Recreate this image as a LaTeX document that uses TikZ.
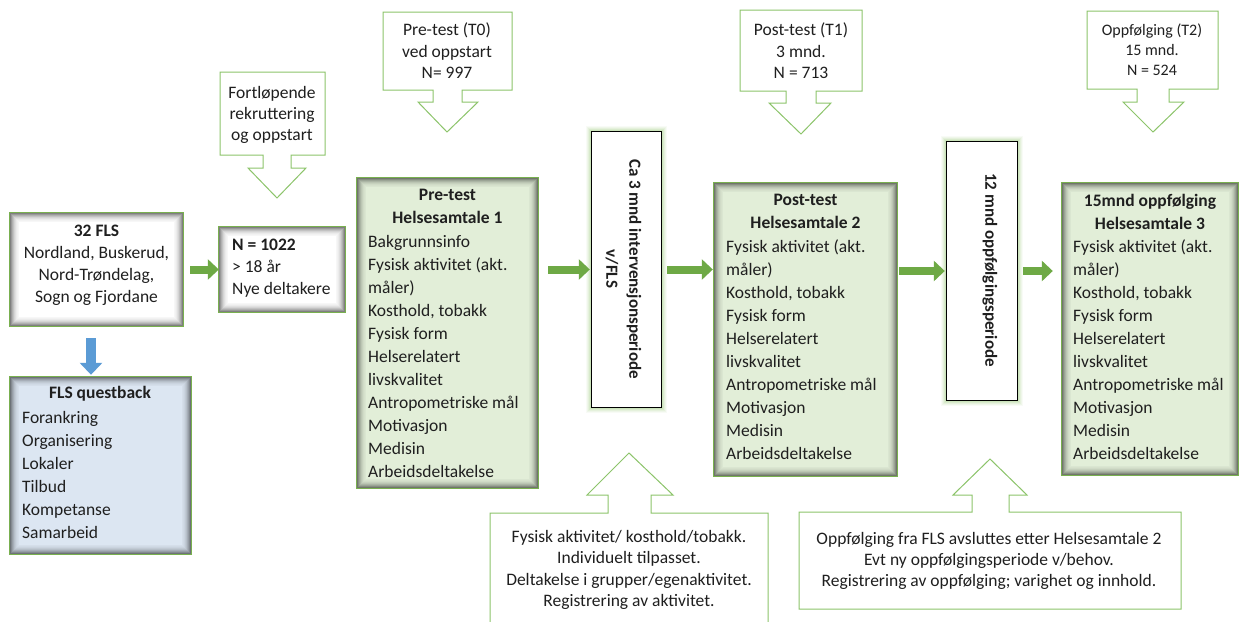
\documentclass[tikz,border=0pt]{standalone}
\usepackage{fontspec}
\setmainfont{Carlito}
\usetikzlibrary{arrows.meta,calc,fit}
\definecolor{bgreen}{HTML}{79B04F}
\definecolor{cgreen}{HTML}{8CC46A}
\definecolor{agreen}{HTML}{6EA945}
\definecolor{glowgreen}{HTML}{A9D18E}
\definecolor{lgreen}{HTML}{E2EED8}
\definecolor{lblue}{HTML}{DCE6F2}
\definecolor{ablue}{HTML}{5B9BD5}
\definecolor{txt}{HTML}{1F1F1F}
\newcommand\innershadow[1]{%
  \foreach \s/\o in {0.5/0.50,1.5/0.40,2.5/0.31,3.5/0.24,4.5/0.17,5.5/0.12,6.5/0.08,7.5/0.05,8.5/0.03}{%
    \draw[black,opacity=\o,line width=1pt] ([shift={(\s,\s)}]#1.north west) rectangle ([shift={(-\s,-\s)}]#1.south east);}}
\newcommand\outerglow[1]{%
  \foreach \s/\o in {1/0.6,2/0.45,3/0.3,4/0.18,5/0.08}{%
    \draw[glowgreen,opacity=\o,line width=1pt] ([shift={(-\s,-\s)}]#1.north west) rectangle ([shift={(\s,\s)}]#1.south east);}}
\begin{document}
\begin{tikzpicture}[x=1pt,y=-1pt,
  every node/.style={inner sep=0pt, text=txt, font=\fontsize{17.5}{23}\selectfont},
  boxline/.style={draw=bgreen, line width=1.3pt},
  callout/.style={draw=cgreen, line width=1pt, fill=white},
  garrow/.style={line width=8pt, agreen, -{Triangle[width=20pt,length=11pt]}},
  barrow/.style={line width=10pt, ablue, -{Triangle[width=22pt,length=12pt]}},
  lst/.style={align=left, anchor=west},
  ctr/.style={align=center},
  vtext/.style={align=center, rotate=-90, font=\bfseries\fontsize{17}{23}\selectfont}]
\useasboundingbox (0,0) rectangle (1239,621);
\fill[white] (0,0) rectangle (1239,621);

% ---- 32 FLS
\node[fit={(10,213)(183,326)}, fill=white] (fls) {};
\innershadow{fls}
\draw[boxline] (fls.north west) rectangle (fls.south east);
\node[ctr, font=\fontsize{17.5}{22}\selectfont] (flst) at (96.5,265) {\textbf{32 FLS}\\Nordland, Buskerud,\\Nord-Trøndelag,\\Sogn og Fjordane};

% ---- N = 1022
\node[fit={(219,227)(345,312)}, fill=white] (n) {};
\innershadow{n}
\draw[boxline] (n.north west) rectangle (n.south east);
\node[lst, font=\fontsize{17.5}{22}\selectfont] (nt) at (232,268) {\textbf{N = 1022}\\> 18 år\\Nye deltakere};

% ---- FLS questback
\node[fit={(10,377)(191,554)}, fill=lblue] (qb) {};
\innershadow{qb}
\draw[boxline] (qb.north west) rectangle (qb.south east);
\node (qbh) at (100,394) {\textbf{FLS questback}};
\node[lst] (qbl) at (22,475) {Forankring\\Organisering\\Lokaler\\Tilbud\\Kompetanse\\Samarbeid};

% ---- Pre-test box
\node[fit={(357,178)(538,488)}, fill=lgreen] (pre) {};
\innershadow{pre}
\draw[boxline] (pre.north west) rectangle (pre.south east);
\node[ctr] (preh) at (447.5,206.5) {\textbf{Pre-test}\\\textbf{Helsesamtale 1}};
\node[lst] (prel) at (368,356) {Bakgrunnsinfo\\Fysisk aktivitet (akt.\\måler)\\Kosthold, tobakk\\Fysisk form\\Helserelatert\\livskvalitet\\Antropometriske mål\\Motivasjon\\Medisin\\Arbeidsdeltakelse};

% ---- Post-test box
\node[fit={(714,183)(897,476)}, fill=lgreen] (post) {};
\innershadow{post}
\draw[boxline] (post.north west) rectangle (post.south east);
\node[ctr] (posth) at (805.5,211.5) {\textbf{Post-test}\\\textbf{Helsesamtale 2}};
\node[lst] (postl) at (726,349.5) {Fysisk aktivitet (akt.\\måler)\\Kosthold, tobakk\\Fysisk form\\Helserelatert\\livskvalitet\\Antropometriske mål\\Motivasjon\\Medisin\\Arbeidsdeltakelse};

% ---- 15mnd box
\node[fit={(1062,183)(1238,475)}, fill=lgreen] (f15) {};
\innershadow{f15}
\draw[boxline] (f15.north west) rectangle (f15.south east);
\node[ctr] (f15h) at (1150,211.5) {\textbf{15mnd oppfølging}\\\textbf{Helsesamtale 3}};
\node[lst] (f15l) at (1073,349.5) {Fysisk aktivitet (akt.\\måler)\\Kosthold, tobakk\\Fysisk form\\Helserelatert\\livskvalitet\\Antropometriske mål\\Motivasjon\\Medisin\\Arbeidsdeltakelse};

% ---- vertical period boxes
\node[fit={(592,132)(661,407)}] (ca3) {};
\outerglow{ca3}
\draw[fill=white, draw=black, line width=1pt] (ca3.north west) rectangle (ca3.south east);
\node[vtext] (ca3t) at (623.5,269) {Ca 3 mnd intervensjonsperiode\\v/FLS};

\node[fit={(947,142)(1017,400)}] (m12) {};
\outerglow{m12}
\draw[fill=white, draw=black, line width=1pt] (m12.north west) rectangle (m12.south east);
\node[vtext] (m12t) at (990,270) {12 mnd oppfølgingsperiode};

% ---- callouts (down)
\draw[callout] (220,72) -- (325,72) -- (325,155) -- (291,155) -- (291,168) -- (306,168) -- (277,198) -- (248,168) -- (263,168) -- (263,155) -- (220,155) -- cycle;
\node[ctr, font=\fontsize{17.5}{21}\selectfont] (c0t) at (272,115) {Fortløpende\\rekruttering\\og oppstart};

\draw[callout] (383,12) -- (512,12) -- (512,90) -- (462,90) -- (462,102) -- (478,102) -- (447,132) -- (418,102) -- (433,102) -- (433,90) -- (383,90) -- cycle;
\node[ctr, font=\fontsize{17.5}{21.5}\selectfont] (c1t) at (447,51) {Pre-test (T0)\\ved oppstart\\N= 997};

\draw[callout] (740,10) -- (862,10) -- (862,91) -- (816,91) -- (816,103) -- (831,103) -- (801,134) -- (769,103) -- (786,103) -- (786,91) -- (740,91) -- cycle;
\node[ctr, font=\fontsize{17.5}{21.5}\selectfont] (c2t) at (801,51) {Post-test (T1)\\3 mnd.\\N = 713};

\draw[callout] (1087,11) -- (1218,11) -- (1218,89) -- (1169,89) -- (1169,102) -- (1184,102) -- (1153,132) -- (1123,102) -- (1137,102) -- (1137,89) -- (1087,89) -- cycle;
\node[ctr, font=\fontsize{16}{20}\selectfont] (c3t) at (1152,50) {Oppfølging (T2)\\15 mnd.\\N = 524};

% ---- callouts (up)
\draw[callout] (490,513) -- (608,513) -- (608,495) -- (587,495) -- (629,453) -- (673,495) -- (651,495) -- (651,513) -- (768,513) -- (768,630) -- (490,630) -- cycle;
\node[ctr, font=\fontsize{17.5}{21.3}\selectfont] (c4t) at (629,570) {Fysisk aktivitet/ kosthold/tobakk.\\Individuelt tilpasset.\\Deltakelse i grupper/egenaktivitet.\\Registrering av aktivitet.};

\draw[callout] (799,512) -- (972,512) -- (972,495) -- (953,495) -- (990,459) -- (1027,495) -- (1009,495) -- (1009,512) -- (1181,512) -- (1181,609) -- (799,609) -- cycle;
\node[ctr, font=\fontsize{17.5}{21}\selectfont] (c5t) at (989,561) {Oppfølging fra FLS avsluttes etter Helsesamtale 2\\Evt ny oppfølgingsperiode v/behov.\\Registrering av oppfølging; varighet og innhold.};

% ---- block arrows
\draw[garrow, shorten <=7pt] (fls.east) -- (n.west);
\draw[garrow, shorten <=10pt, shorten >=2pt] (pre.east |- ca3.west) -- (ca3.west);
\draw[garrow, shorten <=6pt, shorten >=1pt] (ca3.east) -- (ca3.east -| post.west);
\draw[garrow, shorten <=2pt, shorten >=2pt] (post.east |- m12.west) -- (m12.west);
\draw[garrow, shorten <=6pt, shorten >=9pt] (m12.east) -- (m12.east -| f15.west);
\draw[barrow, shorten <=12pt, shorten >=2pt] ([xshift=-5.5pt]fls.south) -- ([xshift=-5.5pt]fls.south |- qb.north);
\end{tikzpicture}
\end{document}
